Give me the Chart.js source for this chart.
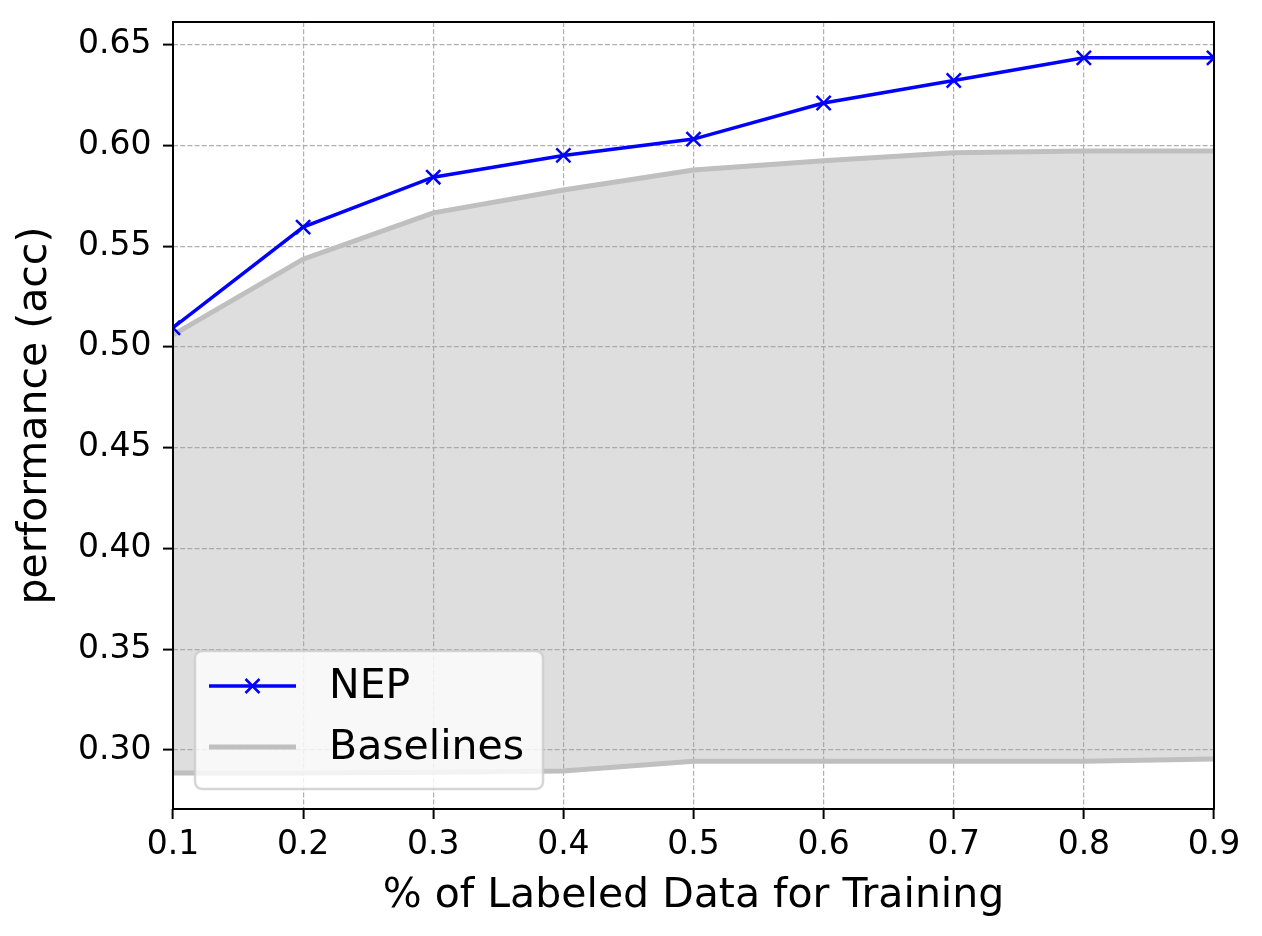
<!DOCTYPE html>
<html>
<head>
<meta charset="utf-8">
<script src="https://cdn.jsdelivr.net/npm/chart.js@4.4.1/dist/chart.umd.min.js"></script>
<style>
    body { margin: 0; background: #fff; }
    #wrap { width: 1262px; height: 936px; }
</style>
</head>
<body>
<div id="wrap"><canvas id="accChart" width="1262" height="936"></canvas></div>
<script>
// Values
const labeledFraction = [0.1, 0.2, 0.3, 0.4, 0.5, 0.6, 0.7, 0.8, 0.9];
const nepAcc        = [0.5095, 0.5594, 0.5842, 0.5950, 0.6031, 0.6210, 0.6322, 0.6434, 0.6434];
const baselineUpper = [0.5060, 0.5435, 0.5665, 0.5778, 0.5878, 0.5923, 0.5963, 0.5972, 0.5972];
const baselineLower = [0.2886, 0.2886, 0.2889, 0.2895, 0.2944, 0.2944, 0.2944, 0.2944, 0.2955];

const xTicks = [0.1, 0.2, 0.3, 0.4, 0.5, 0.6, 0.7, 0.8, 0.9];
const xTickLabels = ['0.1', '0.2', '0.3', '0.4', '0.5', '0.6', '0.7', '0.8', '0.9'];
const yTicks = [0.30, 0.35, 0.40, 0.45, 0.50, 0.55, 0.60, 0.65];
const yTickLabels = ['0.30', '0.35', '0.40', '0.45', '0.50', '0.55', '0.60', '0.65'];

const yMin = 0.2707;
const yMax = 0.6612;

const FONT = 'DejaVu Sans';
const toPoints = ys => ys.map((y, i) => ({ x: labeledFraction[i], y }));

// Black frame round the plot area
const framePlugin = {
    id: 'frame',
    afterDatasetsDraw(chart) {
        const { ctx, chartArea: a } = chart;
        ctx.save();
        ctx.strokeStyle = '#000';
        ctx.lineWidth = 2;
        ctx.strokeRect(a.left, a.top, a.right - a.left, a.bottom - a.top);
        ctx.restore();
    }
};

// Legend box in the lower left corner, matplotlib style
const legendPlugin = {
    id: 'boxLegend',
    afterDraw(chart) {
        const { ctx, chartArea: a } = chart;
        const x = a.left + 22, w = 348, h = 138;
        const y = a.bottom - 20 - h;
        ctx.save();
        ctx.beginPath();
        ctx.roundRect(x, y, w, h, 7);
        ctx.fillStyle = 'rgba(255,255,255,0.8)';
        ctx.fill();
        ctx.strokeStyle = 'rgba(204,204,204,0.8)';
        ctx.lineWidth = 2.5;
        ctx.stroke();

        const lx0 = x + 14, lx1 = x + 101;
        const row1 = y + 35, row2 = y + 96;

        // NEP entry
        ctx.strokeStyle = '#0000ff';
        ctx.lineWidth = 3.5;
        ctx.beginPath();
        ctx.moveTo(lx0, row1);
        ctx.lineTo(lx1, row1);
        ctx.stroke();
        const cx = (lx0 + lx1) / 2, r = 7;
        ctx.lineWidth = 2.5;
        ctx.beginPath();
        ctx.moveTo(cx - r, row1 - r);
        ctx.lineTo(cx + r, row1 + r);
        ctx.moveTo(cx - r, row1 + r);
        ctx.lineTo(cx + r, row1 - r);
        ctx.stroke();

        // Baselines entry
        ctx.strokeStyle = '#bfbfbf';
        ctx.lineWidth = 5;
        ctx.beginPath();
        ctx.moveTo(lx0, row2);
        ctx.lineTo(lx1, row2);
        ctx.stroke();

        ctx.fillStyle = '#000';
        ctx.font = `41px "${FONT}"`;
        ctx.textBaseline = 'middle';
        ctx.textAlign = 'left';
        ctx.fillText('NEP', x + 134, row1 + 1);
        ctx.fillText('Baselines', x + 134, row2 + 1);
        ctx.restore();
    }
};

const gridOpts = {
    color: '#b0b0b0',
    lineWidth: 1.2,
    tickLength: 10,
    tickColor: '#000',
    tickWidth: 2
};

// fixed axis sizes, no extra edge padding for the labels
function fixScale(s, size) {
    if (s.isHorizontal()) s.height = size; else s.width = size;
    s.paddingTop = 0;
    s.paddingBottom = 0;
    s.paddingLeft = 0;
    s.paddingRight = 0;
}

new Chart(document.getElementById('accChart'), {
    type: 'line',
    data: {
        datasets: [
            {
                label: 'NEP',
                data: toPoints(nepAcc),
                borderColor: '#0000ff',
                borderWidth: 3.5,
                pointStyle: 'crossRot',
                pointRadius: 10,
                pointBorderWidth: 2.5,
                pointBorderColor: '#0000ff',
                pointBackgroundColor: '#0000ff',
                fill: false,
                tension: 0,
                clip: 0
            },
            {
                label: 'Baselines',
                data: toPoints(baselineUpper),
                borderColor: '#bfbfbf',
                borderWidth: 5,
                pointRadius: 0,
                backgroundColor: 'rgba(160,160,160,0.35)',
                fill: '+1',
                tension: 0,
                clip: 0
            },
            {
                label: 'Baselines lower',
                data: toPoints(baselineLower),
                borderColor: '#bfbfbf',
                borderWidth: 5,
                pointRadius: 0,
                fill: false,
                tension: 0,
                clip: 0
            }
        ]
    },
    options: {
        responsive: false,
        animation: false,
        events: [],
        layout: { padding: { top: 22, right: 48, left: 0, bottom: 0 } },
        plugins: {
            legend: { display: false },
            tooltip: { enabled: false },
            filler: { drawTime: 'beforeDatasetsDraw' }
        },
        scales: {
            x: {
                type: 'linear',
                min: 0.1,
                max: 0.9,
                afterBuildTicks: s => { s.ticks = xTicks.map(v => ({ value: v })); },
                afterFit: s => fixScale(s, 127),
                ticks: {
                    callback: (v, i) => xTickLabels[i],
                    font: { family: FONT, size: 33 },
                    color: '#000',
                    padding: 7,
                    maxRotation: 0,
                    autoSkip: false
                },
                grid: gridOpts,
                border: { display: false, dash: [5, 2.2] },
                title: {
                    display: true,
                    text: '% of Labeled Data for Training',
                    font: { family: FONT, size: 41 },
                    color: '#000',
                    padding: { top: 0, bottom: 15 }
                }
            },
            y: {
                min: yMin,
                max: yMax,
                afterBuildTicks: s => { s.ticks = yTicks.map(v => ({ value: v })); },
                afterFit: s => fixScale(s, 173),
                ticks: {
                    callback: (v, i) => yTickLabels[i],
                    font: { family: FONT, size: 33 },
                    color: '#000',
                    padding: 11.5,
                    autoSkip: false
                },
                grid: gridOpts,
                border: { display: false, dash: [5, 2.2] },
                title: {
                    display: true,
                    text: 'performance (acc)',
                    font: { family: FONT, size: 41 },
                    color: '#000',
                    padding: { top: 11, bottom: 0 }
                }
            }
        }
    },
    plugins: [framePlugin, legendPlugin]
});
</script>
</body>
</html>
